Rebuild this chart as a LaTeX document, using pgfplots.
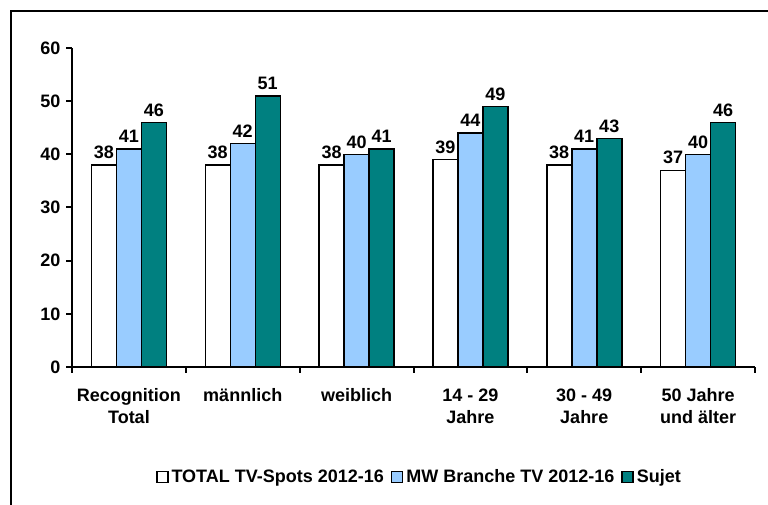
\documentclass[border=0pt]{standalone}
\usepackage{fontspec}
\setmainfont{Liberation Sans}
\usepackage{pgfplots}
\pgfplotsset{compat=1.18}
\definecolor{lblue}{HTML}{99CCFF}
\definecolor{tealc}{HTML}{008080}
\newcommand\lf{\bfseries\fontsize{18}{22}\selectfont}
\pgfplotsset{sqleg/.style={legend image code/.code={\draw[##1, line width=1.5pt, bar shift=0pt] (0pt,-5.5pt) rectangle (11pt,5.5pt);}}}
\begin{document}
\begin{tikzpicture}
\useasboundingbox (0,0) rectangle (768pt,505pt);
\draw[line width=2pt] (11pt,-10pt) -- (11pt,494pt) -- (790pt,494pt);
\begin{axis}[
  at={(72pt,138pt)}, anchor=south west,
  scale only axis, width=683pt, height=319pt,
  xmin=0, xmax=6, ymin=0, ymax=60,
  axis x line*=bottom, axis y line*=left,
  axis line style={-, line width=2pt, black},
  ytick={0,10,...,60},
  xtick={0,1,...,6},
  xticklabels={},
  extra x ticks={0.5,1.5,2.5,3.5,4.5,5.5},
  extra x tick labels={{Recognition\\Total},{männlich},{weiblich},{14 - 29\\Jahre},{30 - 49\\Jahre},{50 Jahre\\und älter}},
  extra x tick style={major tick length=0pt, tick style={draw=none}},
  xticklabel style={align=center, font=\lf, yshift=-18pt},
  yticklabel style={font=\lf, xshift=-2pt},
  /pgf/number format/assume math mode=true,
  tick pos=left, tick align=outside,
  major tick length=6pt,
  tick style={line width=2pt, black},
  ybar, bar width=25pt,
  nodes near coords,
  every node near coord/.append style={font=\lf, text=black, yshift=2pt},
  legend columns=3,
  legend style={at={(0.5095,-0.345)}, anchor=center, draw=none, font=\lf,
    /tikz/every even column/.append style={column sep=4pt},
    nodes={inner xsep=3pt}},
]
\addplot[draw=black, fill=white, line width=1.5pt, bar shift=-25pt, sqleg] coordinates {(0.5,38) (1.5,38) (2.5,38) (3.5,39) (4.5,38) (5.5,37)};
\addplot[draw=black, fill=lblue, line width=1.5pt, bar shift=0pt, sqleg] coordinates {(0.5,41) (1.5,42) (2.5,40) (3.5,44) (4.5,41) (5.5,40)};
\addplot[draw=black, fill=tealc, line width=1.5pt, bar shift=25pt, sqleg] coordinates {(0.5,46) (1.5,51) (2.5,41) (3.5,49) (4.5,43) (5.5,46)};
\legend{TOTAL TV-Spots 2012-16, MW Branche TV 2012-16, Sujet}
\end{axis}
\end{tikzpicture}
\end{document}
